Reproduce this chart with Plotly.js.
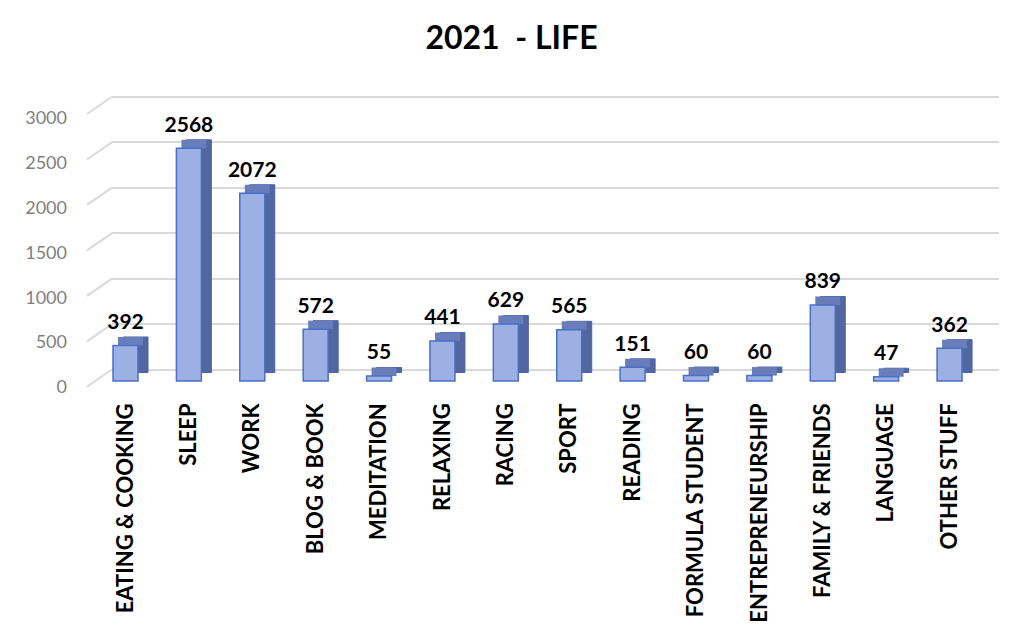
<!DOCTYPE html>
<html>
<head>
<meta charset="utf-8">
<script src="https://cdn.plot.ly/plotly-3.0.1.min.js"></script>
<style>html,body{margin:0;padding:0;background:#fff;}#chart{width:1023px;height:628px;}</style>
</head>
<body>
<div id="chart"></div>
<script>
var categories = ["EATING & COOKING","SLEEP","WORK","BLOG & BOOK","MEDITATION","RELAXING","RACING","SPORT","READING","FORMULA STUDENT","ENTREPRENEURSHIP","FAMILY & FRIENDS","LANGUAGE","OTHER STUFF"];
var hours = [392,2568,2072,572,55,441,629,565,151,60,60,839,47,362];
var tickValues = [0,500,1000,1500,2000,2500,3000];
var tickLabels = ["0","500","1000","1500","2000","2500","3000"];

// 3D look parameters (style only)
var W = 0.394;      // bar width in category units
var DX = 0.158;     // depth shift, category units
var DY = 94;        // depth shift, value units
var GAP = 12;       // gap between top face and label

var depthY = hours.map(function(){return DY;});
var labelY = hours.map(function(){return DY + GAP;});

var sideTrace = {type:'bar', x:categories, y:hours, base:depthY, offset:-W/2+DX, width:W,
  marker:{color:'#52669f', line:{color:'#4a64ad', width:1}}, hoverinfo:'skip', showlegend:false};
var topTrace = {type:'bar', x:categories, y:depthY, base:hours, offset:-W/2+DX/2, width:W,
  marker:{color:'#6a7dbb', line:{width:0}}, hoverinfo:'skip', showlegend:false};
var frontTrace = {type:'bar', x:categories, y:hours, offset:-W/2, width:W,
  marker:{color:'#9db0e3', line:{color:'#4a6fc8', width:1.5}}, showlegend:false};
var labelTrace = {type:'bar', x:categories, y:labelY, base:hours, offset:-W/2, width:W,
  marker:{color:'rgba(0,0,0,0)'}, text:hours.map(String), textposition:'outside',
  constraintext:'none', cliponaxis:false,
  textfont:{family:'Lato', size:21, weight:700, color:'#000'}, hoverinfo:'skip', showlegend:false};
var dummy2 = {type:'scatter', x:[categories[0]], y:[0], yaxis:'y2', mode:'markers', marker:{opacity:0}, hoverinfo:'skip', showlegend:false};
var dummy3 = {type:'scatter', x:[categories[0]], y:[0], yaxis:'y3', mode:'markers', marker:{opacity:0}, hoverinfo:'skip', showlegend:false};

var shapeList = tickValues.map(function(v){
  return {type:'line', xref:'paper', yref:'y3', x0:-25/887, x1:0, y0:v-190, y1:v,
    line:{color:'#d9d9d9', width:2}, layer:'below'};
});

var layout = {
  width:1023, height:628,
  margin:{l:112, r:24, t:90, b:238},
  paper_bgcolor:'#fff', plot_bgcolor:'rgba(0,0,0,0)',
  barmode:'overlay',
  title:{text:'2021  - LIFE', x:0.5, xref:'container', xanchor:'center', y:1-38/628, yref:'container', yanchor:'middle',
    font:{family:'Lato', size:32, weight:700, color:'#000'}},
  xaxis:{type:'category', range:[-0.213, 13.78], showgrid:false, zeroline:false, showline:false,
    tickangle:-90, ticklabelstandoff:8, tickfont:{family:'Lato', size:22, weight:700, color:'#000'}},
  yaxis:{range:[-99.3, 3211.9], showgrid:false, zeroline:false, showticklabels:false},
  yaxis2:{overlaying:'y', range:[-33.5, 3312.3], showgrid:false, zeroline:false,
    tickvals:tickValues, ticktext:tickLabels, ticklabelstandoff:44,
    tickfont:{family:'Lato', size:18, color:'#7f7f7f'}, side:'left'},
  yaxis3:{overlaying:'y', range:[-225.4, 3073.7], showgrid:true, gridcolor:'#d9d9d9', gridwidth:2,
    zeroline:false, showticklabels:false, tickvals:tickValues},
  shapes:shapeList
};

Plotly.newPlot('chart', [dummy3, dummy2, sideTrace, topTrace, frontTrace, labelTrace], layout, {displayModeBar:false, staticPlot:true});
</script>
</body>
</html>
